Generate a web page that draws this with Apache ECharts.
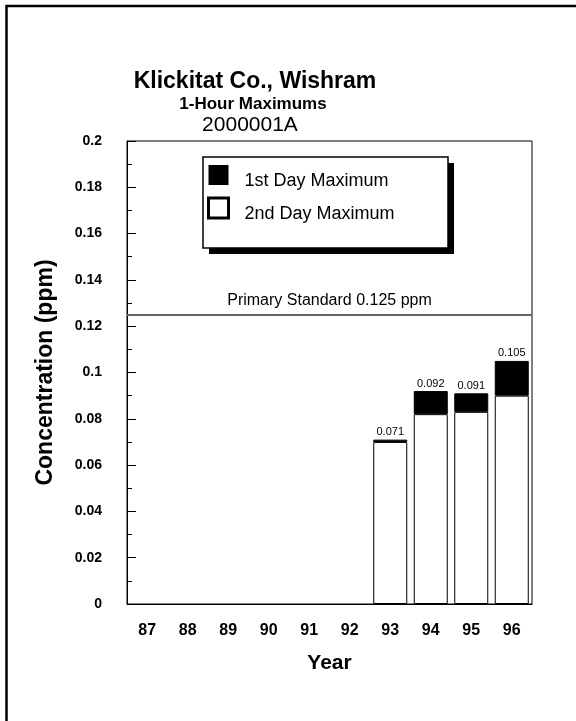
<!DOCTYPE html>
<html lang="en">
<head>
    <meta charset="UTF-8">
    <title>Klickitat Co., Wishram</title>
    <script src="https://cdn.jsdelivr.net/npm/echarts@6/dist/echarts.min.js"></script>
    <style>
        body{margin:0;background:#fff;}
        #main{width:576px;height:721px;}
    </style>
</head>
<body>
<div id="main"></div>
<script>
    var years=['87','88','89','90','91','92','93','94','95','96'];
    var firstDay=[null,null,null,null,null,null,0.071,0.092,0.091,0.105];
    var secondDay=[null,null,null,null,null,null,0.070,0.082,0.083,0.090];
    var standard=0.125;

    var font='"Liberation Sans", Arial, sans-serif';
    // black part of the bar = 1st day max minus 2nd day max
    var topPart=firstDay.map(function (v,i) {
        return v==null ? null : +(v-secondDay[i]).toFixed(3);
    });

    var myCharts=echarts.init(document.getElementById('main'));
    var option={
        animation:false,
        textStyle:{fontFamily:font},
        grid:{
            show:true,
            left:127,
            right:44,
            top:141,
            bottom:117,
            borderColor:'#000',
            borderWidth:1,
            containLabel:false
        },
        legend:{
            orient:'vertical',
            left:207,
            top:165,
            padding:0,
            itemWidth:20,
            itemHeight:20,
            itemGap:6,
            selectedMode:false,
            formatter:function (name) { return '{t|'+name+'}'; },
            textStyle:{
                fontSize:18,color:'#000',fontFamily:font,
                rich:{t:{fontSize:18,color:'#000',fontFamily:font,padding:[13,0,0,11]}}
            },
            data:[
                {name:'1st Day Maximum',icon:'rect',itemStyle:{color:'#000',borderWidth:0}},
                {name:'2nd Day Maximum',icon:'rect',itemStyle:{color:'#fff',borderColor:'#000',borderWidth:3}}
            ]
        },
        xAxis:{
            type:'category',
            data:years,
            name:'Year',
            nameLocation:'middle',
            nameGap:49,
            nameTextStyle:{fontSize:21,fontWeight:'bold',color:'#000',fontFamily:font},
            axisLine:{lineStyle:{color:'#000',width:1}},
            axisTick:{show:false},
            axisLabel:{fontSize:16,fontWeight:'bold',color:'#000',margin:19,fontFamily:font}
        },
        yAxis:{
            type:'value',
            min:0,
            max:0.2,
            interval:0.02,
            name:'Concentration (ppm)',
            nameLocation:'middle',
            nameGap:70,
            nameTextStyle:{fontSize:23,fontWeight:'bold',color:'#000',fontFamily:font},
            axisLine:{show:true,lineStyle:{color:'#000',width:1}},
            axisTick:{show:true,inside:true,length:9,lineStyle:{color:'#000'}},
            minorTick:{show:true,splitNumber:2,length:5,lineStyle:{color:'#000'}},
            splitLine:{show:false},
            axisLabel:{
                fontSize:14,fontWeight:'bold',color:'#000',margin:25,fontFamily:font,
                formatter:function (v) { return String(+v.toFixed(2)); }
            }
        },
        series:[
            {
                name:'2nd Day Maximum',
                type:'bar',
                stack:'max',
                barWidth:34,
                data:secondDay,
                itemStyle:{color:'#fff',borderColor:'#000',borderWidth:1}
            },
            {
                name:'1st Day Maximum',
                type:'bar',
                stack:'max',
                barWidth:34,
                data:topPart,
                itemStyle:{color:'#000',borderColor:'#000',borderWidth:1},
                label:{
                    show:true,
                    position:'top',
                    distance:2,
                    fontSize:11,
                    color:'#000',
                    fontFamily:font,
                    formatter:function (p) { return firstDay[p.dataIndex].toFixed(3); }
                }
            },
            {
                name:'standard',
                type:'line',
                data:[],
                markLine:{
                    silent:true,
                    precision:3,
                    symbol:['none','none'],
                    lineStyle:{color:'#666',width:2,type:'solid'},
                    label:{
                        position:'insideMiddleTop',
                        distance:6,
                        formatter:'Primary Standard 0.125 ppm',
                        fontSize:16,
                        color:'#000',
                        fontFamily:font
                    },
                    data:[{yAxis:standard}]
                }
            }
        ],
        graphic:[
            {type:'polyline',shape:{points:[[6.5,721],[6.5,6],[576,6]]},style:{stroke:'#000',lineWidth:2.5,fill:null}},
            {type:'rect',z:1,shape:{x:209,y:163,width:245,height:91},style:{fill:'#000'}},
            {type:'rect',z:1,shape:{x:203,y:157,width:245,height:91},style:{fill:'#fff',stroke:'#000',lineWidth:1.5}},
            {type:'text',x:255,y:82,style:{text:'Klickitat Co., Wishram',fontSize:23,fontWeight:'bold',fontFamily:font,fill:'#000',align:'center',verticalAlign:'middle'}},
            {type:'text',x:253,y:104,style:{text:'1-Hour Maximums',fontSize:17,fontWeight:'bold',fontFamily:font,fill:'#000',align:'center',verticalAlign:'middle'}},
            {type:'text',x:250,y:125,style:{text:'2000001A',fontSize:21,fontFamily:font,fill:'#000',align:'center',verticalAlign:'middle'}}
        ]
    };
    myCharts.setOption(option);
</script>
</body>
</html>
